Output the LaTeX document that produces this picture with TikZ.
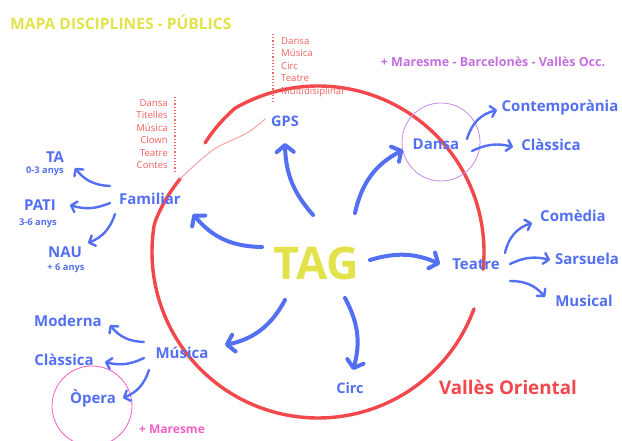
\documentclass[tikz,border=0pt]{standalone}
\usepackage{fontspec}
\setmainfont{Open Sans}
\usetikzlibrary{arrows.meta,calc}
\definecolor{tagblue}{HTML}{5470F2}
\definecolor{tagyellow}{HTML}{E2E34A}
\definecolor{tagred}{HTML}{F2474B}
\definecolor{listred}{HTML}{F26262}
\definecolor{occpurple}{HTML}{C46FE0}
\definecolor{circpurple}{HTML}{C98BE6}
\definecolor{marpink}{HTML}{F25FC4}
\begin{document}
\begin{tikzpicture}[x=1pt,y=1pt,
  lbl/.style={text=tagblue, font=\bfseries\fontsize{15}{17}\selectfont, inner sep=0pt},
  sublbl/.style={text=tagblue, font=\bfseries\fontsize{9.3}{11}\selectfont, inner sep=0pt},
  listtxt/.style={text=listred, font=\fontsize{9.6}{12.5}\selectfont, inner sep=0pt},
  bigarrow/.style={draw=tagblue, line width=4pt, line cap=round,
     -{Straight Barb[length=7pt,width=17pt,round]}},
  subarrow/.style={draw=tagblue, line width=2.4pt, line cap=round,
     -{Straight Barb[length=5pt,width=11pt,round]}},
  ring/.style={draw=tagred, line width=3.4pt, line cap=round, line join=round}
]
\useasboundingbox (0,0) rectangle (622,441);
\fill[white] (0,0) rectangle (622,441);

% big red circle
\draw[ring] plot[domain=136:-6, samples=80, smooth] ({318+(166-max(0,\x-120)*9/16)*cos(\x)},{189+(166-max(0,\x-120)*9/16)*sin(\x)});
\draw[ring] plot[domain=-20:-208, samples=100, smooth] ({318+(166-max(0,-190-\x)*10/18)*cos(\x)},{189+(166-max(0,-190-\x)*10/18)*sin(\x)});
\draw[draw=tagred!55, line width=0.9pt, line cap=round] plot[smooth, tension=0.6] coordinates {(180,262) (213,291) (247,308) (265,322)};

% title
\node[anchor=west, text=tagyellow, font=\bfseries\fontsize{15.6}{18}\selectfont, inner sep=0pt] (title) at (10,419) {MAPA DISCIPLINES - PÚBLICS};

% centre
\node[text=tagyellow, font=\bfseries\fontsize{45}{50}\selectfont, inner sep=0pt] (TAG) at (316,178) {TAG};

% main nodes
\node[lbl, font=\bfseries\fontsize{14.5}{16}\selectfont] (GPS) at (285,320) {GPS};
\node[lbl] (Dansa) at (436,297) {Dansa};
\node[lbl] (Familiar) at (150,242) {Familiar};
\node[lbl] (Teatre) at (476,177) {Teatre};
\node[lbl] (Musica) at (182,88) {Música};
\node[lbl, font=\bfseries\fontsize{14.5}{16}\selectfont] (Circ) at (350,53) {Circ};

% dansa circle
\draw[circpurple, line width=0.8pt] (441,299) circle (39);
\node[text=occpurple, font=\bfseries\fontsize{12.5}{14}\selectfont, inner sep=0pt] (Occ) at (493,379) {+ Maresme - Barcelonès - Vallès Occ.};
\node[lbl] (Contemp) at (560,333) {Contemporània};
\node[lbl] (ClassicaD) at (551,296) {Clàssica};

% familiar
\node[lbl] (TA) at (55,284) {TA};
\node[sublbl] (TAa) at (45,270) {0-3 anys};
\node[lbl] (PATI) at (40,236) {PATI};
\node[sublbl] (PATIa) at (38,218) {3-6 anys};
\node[lbl] (NAU) at (65,189) {NAU};
\node[sublbl] (NAUa) at (66,173) {+ 6 anys};
\node[listtxt, anchor=north east, align=right] (listL) at (168,342) {Dansa\\Titelles\\Música\\Clown\\Teatre\\Contes};
\draw[listred, line width=1.2pt, dotted] ($(listL.north east)+(7,2)$) -- ($(listL.south east)+(7,-3)$);

% GPS list
\node[listtxt, anchor=north west, align=left] (listT) at (281,404) {Dansa\\Música\\Circ\\Teatre\\Multidisiplinar};
\draw[listred, line width=1.2pt, dotted] ($(listT.north west)+(-8,3)$) -- ($(listT.south west)+(-8,-6)$);

% teatre
\node[lbl] (Comedia) at (573,225) {Comèdia};
\node[lbl] (Sarsuela) at (587,182) {Sarsuela};
\node[lbl] (Musical) at (584,140) {Musical};

% musica
\node[lbl] (Moderna) at (68,120) {Moderna};
\node[lbl] (ClassicaM) at (64,81) {Clàssica};
\node[lbl] (Opera) at (93,43) {Òpera};
\draw[marpink, line width=0.8pt] (92,35) circle (40);
\node[text=marpink, font=\bfseries\fontsize{12}{14}\selectfont, inner sep=0pt] (Maresme) at (172,12) {+ Maresme};

% region label
\node[text=tagred, font=\bfseries\fontsize{18.8}{22}\selectfont, inner sep=0pt] (Valles) at (508,54) {Vallès Oriental};

% main arrows
\draw[bigarrow] ($(TAG)+(-54,16)$) to[bend left=25] ($(Familiar)+(43,-15)$);
\draw[bigarrow] ($(TAG)+(-3,48)$) to[bend left=20] ($(GPS)+(0,-22)$);
\draw[bigarrow] ($(TAG)+(39,50)$) to[bend left=25] ($(Dansa)+(-33,-6)$);
\draw[bigarrow] ($(TAG)+(54,3)$) to[bend left=20] ($(Teatre)+(-36,0)$);
\draw[bigarrow] ($(TAG)+(-31,-37)$) to[bend left=25] ($(Musica)+(43,8)$);
\draw[bigarrow] ($(TAG)+(29,-35)$) to[bend left=22] ($(Circ)+(3,18)$);

% sub arrows
\draw[subarrow] ($(Familiar)+(-40,13)$) to[bend left=25] ($(TA)+(20,-11)$);
\draw[subarrow] ($(Familiar)+(-40,-4)$) to[bend left=20] ($(PATI)+(30,0)$);
\draw[subarrow] ($(Familiar)+(-35,-15)$) to[bend left=25] ($(NAU)+(23,9)$);
\draw[subarrow] ($(Dansa)+(31,5)$) to[bend left=30] ($(Contemp)+(-63,-2)$);
\draw[subarrow] ($(Dansa)+(36,-7)$) to[bend left=20] ($(ClassicaD)+(-38,-2)$);
\draw[subarrow] ($(Teatre)+(29,11)$) to[bend left=30] ($(Comedia)+(-41,-7)$);
\draw[subarrow] ($(Teatre)+(34,0)$) to[bend left=20] ($(Sarsuela)+(-37,-1)$);
\draw[subarrow] ($(Teatre)+(34,-17)$) to[bend left=25] ($(Musical)+(-39,4)$);
\draw[subarrow] ($(Musica)+(-38,11)$) to[bend left=25] ($(Moderna)+(42,-4)$);
\draw[subarrow] ($(Musica)+(-38,-5)$) to[bend left=20] ($(ClassicaM)+(41,-2)$);
\draw[subarrow] ($(Musica)+(-33,-17)$) to[bend left=25] ($(Opera)+(30,0)$);
\end{tikzpicture}
\end{document}
